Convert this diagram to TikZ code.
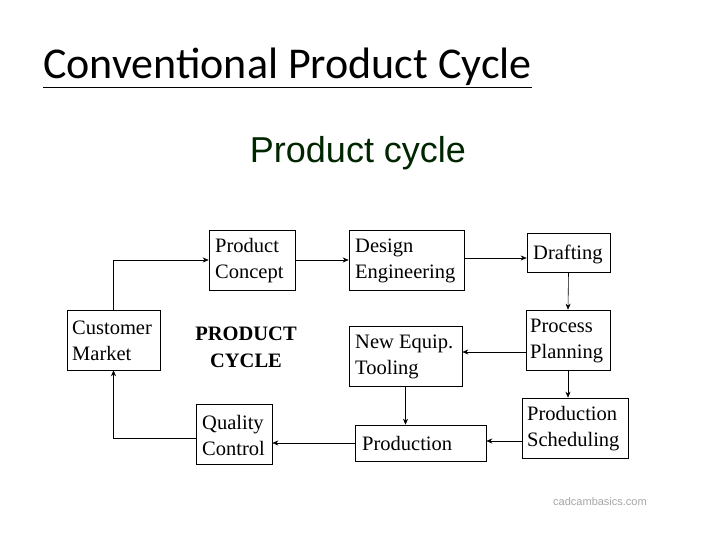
\documentclass[tikz,border=0pt]{standalone}
\usepackage{fontspec}
\setmainfont{Liberation Serif}
\newfontfamily\titlefont{Carlito}
\newfontfamily\arialfont{Liberation Sans}
\usetikzlibrary{arrows.meta}
\begin{document}
\begin{tikzpicture}[x=1pt,y=-1pt,
  box/.style={draw,line width=0.6pt,inner sep=0pt},
  lbl/.style={align=left,anchor=west,font=\fontsize{20.5}{26}\selectfont,inner sep=0pt},
  arr/.style={-{Stealth[length=6pt,width=5pt]},line width=0.6pt}]
\useasboundingbox[fill=white] (0,0) rectangle (720,540);
\node[anchor=west,font=\titlefont\fontsize{44}{48}\selectfont,inner sep=0pt] (title) at (43,68) {\underline{Conventional Product Cycle}};
\node[font=\arialfont\fontsize{36}{40}\selectfont,text=black!85!green] (sub) at (358,153) {Product cycle};
% boxes
\node[box,minimum width=86,minimum height=60] (pc) at (252,260) {};
\node[lbl] at (215,261) {Product\\Concept};
\node[box,minimum width=115,minimum height=60] (de) at (406.5,260) {};
\node[lbl] at (355,261) {Design\\Engineering};
\node[box,minimum width=83,minimum height=39] (dr) at (568.5,252.5) {};
\node[lbl] at (533,254) {Drafting};
\node[box,minimum width=93,minimum height=60] (cm) at (113.5,340) {};
\node[lbl] at (72,341) {Customer\\Market};
\node[box,minimum width=84,minimum height=60] (pp) at (568,340) {};
\node[lbl] at (530,341) {Process\\Planning};
\node[box,minimum width=113,minimum height=60] (ne) at (405.5,356) {};
\node[lbl] at (355,357) {New Equip.\\Tooling};
\node[box,minimum width=76,minimum height=60] (qc) at (234,434) {};
\node[lbl] at (202,435) {Quality\\Control};
\node[box,minimum width=131,minimum height=36] (pr) at (420.5,443) {};
\node[lbl] at (362,443) {Production};
\node[box,minimum width=106,minimum height=60] (ps) at (575,428) {};
\node[lbl] at (527,429) {Production\\Scheduling};
\node[font=\bfseries\fontsize{20.5}{27}\selectfont,align=center] (pcy) at (246,347) {PRODUCT\\CYCLE};
\node[font=\arialfont\fontsize{11}{13}\selectfont,text=black!35] (web) at (600,502) {cadcambasics.com};
% arrows
\draw[arr] (cm.north) |- (pc.west);
\draw[arr] (pc.east) -- (de.west);
\draw[arr] (de.east |- 0,258) -- (dr.west |- 0,258);
\draw[arr] (dr.south) -- (pp.north);
\draw[arr] (pp.west |- 0,352) -- (ne.east |- 0,352);
\draw[arr] (pp.south) -- (pp.south |- ps.north);
\draw[arr] (ne.south) -- (ne.south |- pr.north);
\draw[arr] (ps.west |- 0,441) -- (pr.east |- 0,441);
\draw[arr] (pr.west) -- (qc.east |- pr.west);
\draw[arr] (qc.west |- 0,438) -| (cm.south);
\end{tikzpicture}
\end{document}
